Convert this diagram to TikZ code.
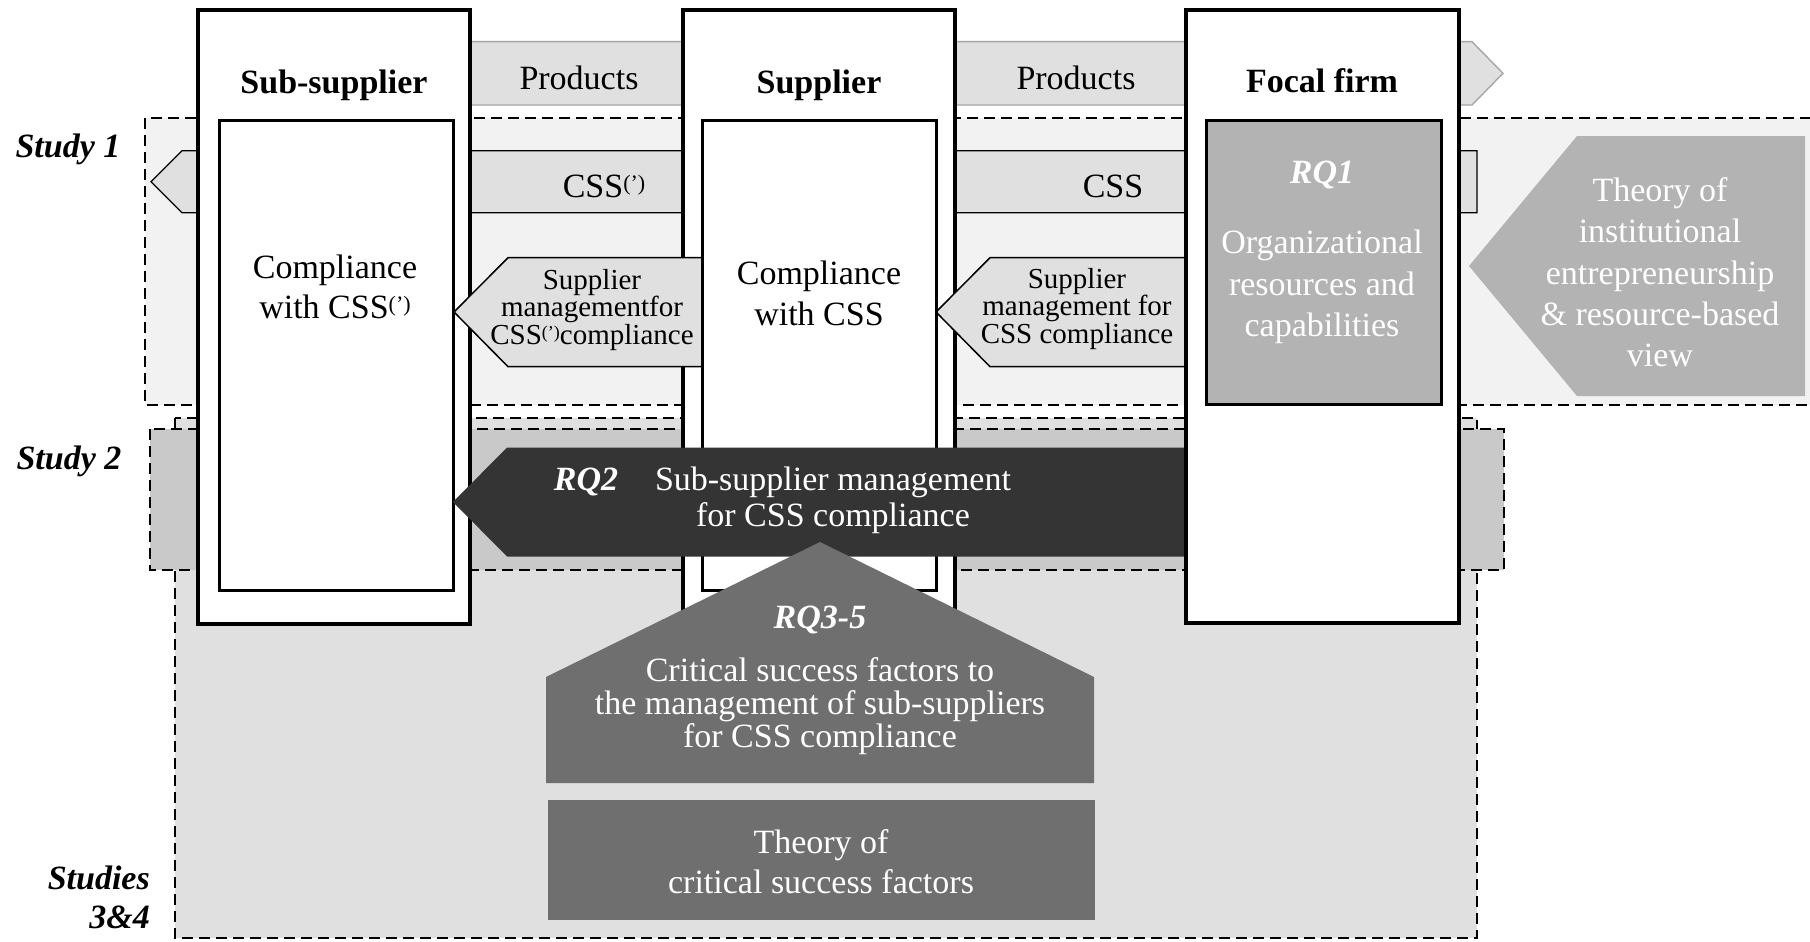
\documentclass[tikz,border=0pt]{standalone}
\usepackage{fontspec}
\setmainfont{Liberation Serif}
\definecolor{studyA}{HTML}{F2F2F2}
\definecolor{studyB}{HTML}{C9C9C9}
\definecolor{studyC}{HTML}{E0E0E0}
\definecolor{bandfill}{HTML}{E0E0E0}
\definecolor{bandline}{HTML}{A6A6A6}
\definecolor{midgray}{HTML}{B3B3B3}
\definecolor{rqdark}{HTML}{343434}
\definecolor{csfgray}{HTML}{6F6F6F}
% small raised "(')" after CSS
\newcommand{\quotesup}[2]{\raisebox{#2}{\fontsize{#1}{#1}\selectfont(’)}}
\begin{document}
\begin{tikzpicture}[x=1pt,y=-1pt,
  study/.style={draw=black,line width=2.2pt,dash pattern=on 11pt off 6pt},
  firm/.style={draw=black,fill=white,line width=3.4pt},
  innerbox/.style={draw=black,line width=3pt},
  prodband/.style={draw=bandline,fill=bandfill,line width=1.4pt},
  cssband/.style={draw=black,fill=bandfill,line width=1.2pt},
  lbl/.style={inner sep=0pt,anchor=base,align=center,font=\fontsize{34}{40}\selectfont},
  head/.style={lbl,font=\fontsize{34}{40}\selectfont\bfseries},
  studylbl/.style={inner sep=0pt,font=\fontsize{34}{39}\selectfont\bfseries\itshape},
  rq/.style={lbl,text=white,font=\fontsize{34}{40}\selectfont\bfseries\itshape},
  mgmt/.style={lbl,font=\fontsize{29}{25}\selectfont},
]
\useasboundingbox (0,0) rectangle (1810,942);

% study areas
\draw[study,fill=studyC] (175,418) rectangle (1477,938);
\draw[study,fill=studyB] (150,429) rectangle (1504,570);
\draw[study,fill=studyA] (145,118) rectangle (1830,405);

% flows of products and standards
\draw[prodband] (250,41.7) -- (1472,41.7) -- (1503,73.3) -- (1472,105) -- (250,105) -- cycle;
\draw[cssband] (151,181.7) -- (182,150.7) -- (1477,150.7) -- (1477,212.7) -- (182,212.7) -- cycle;

% theory arrow of study 1
\fill[midgray] (1469,266) -- (1577,136) -- (1805,136) -- (1805,396) -- (1577,396) -- cycle;

% sub-supplier and supplier
\draw[firm] (198,10) rectangle (470,624);
\draw[firm] (683,10) rectangle (955,624);

% supplier management arrows
\draw[cssband,line width=1.5pt] (454,312) -- (508,257.7) -- (702,257.7) -- (702,366.7) -- (508,366.7) -- cycle;
\draw[cssband,line width=1.5pt] (936,312) -- (990,257.7) -- (1186,257.7) -- (1186,366.7) -- (990,366.7) -- cycle;

\draw[innerbox,fill=white] (219,120) rectangle (453,590);
\draw[innerbox,fill=white] (702,120) rectangle (936,590);

% RQ2 arrow
\fill[rqdark] (453,502) -- (507,447.5) -- (1186,447.5) -- (1186,556.5) -- (507,556.5) -- cycle;

% focal firm
\draw[firm] (1186,10) rectangle (1459,623);
\draw[innerbox,fill=midgray] (1206,120) rectangle (1441,404);

% RQ3-5 and its theory
\fill[csfgray] (546,783) -- (546,677) -- (820,542) -- (1094,677) -- (1094,783) -- cycle;
\fill[csfgray] (548,800) rectangle (1095,920);

% labels (multi-line nodes are placed by the baseline of their last line)
\node[head] (nsub) at (334,93) {Sub-supplier};
\node[head] (nsup) at (819,93) {Supplier};
\node[head] (nfocal) at (1322,92.5) {Focal firm};
\node[lbl] (prod1) at (579,89) {Products};
\node[lbl] (prod2) at (1076,89) {Products};
\node[lbl] (css1) at (604,197) {CSS\quotesup{22}{7pt}};
\node[lbl] (css2) at (1113,197) {CSS};
\node[lbl] (comp1) at (335,318) {Compliance\\with CSS\quotesup{22}{7pt}};
\node[lbl,font=\fontsize{34}{41}\selectfont] (comp2) at (819,325) {Compliance\\with CSS};
\node[mgmt] (mg1) at (592,344) {Supplier\\managementfor\\CSS\quotesup{18}{6pt}compliance};
\node[mgmt] (mg2) at (1077,343) {Supplier\\management for\\CSS compliance};
\node[rq] (rq1) at (1322,183) {RQ1};
\node[lbl,text=white,font=\fontsize{34}{41.7}\selectfont] (orgres) at (1322,336.7) {Organizational\\resources and\\capabilities};
\node[lbl,text=white,font=\fontsize{34}{41.3}\selectfont] (theory1) at (1660,366.7) {Theory of\\institutional\\entrepreneurship\\\& resource-based\\view};
\node[rq] (rq2) at (586,490) {RQ2};
\node[lbl,text=white,font=\fontsize{34}{36}\selectfont] (subm) at (833,526) {Sub-supplier management\\for CSS compliance};
\node[rq] (rq35) at (820,628) {RQ3-5};
\node[lbl,text=white,font=\fontsize{34}{33}\selectfont] (csf) at (820,747) {Critical success factors to\\the management of sub-suppliers\\for CSS compliance};
\node[lbl,text=white,font=\fontsize{34}{40}\selectfont] (csftheory) at (821,893) {Theory of\\critical success factors};

\node[studylbl,anchor=base] (s1) at (68,157) {Study 1};
\node[studylbl,anchor=base] (s2) at (69,469) {Study 2};
\node[studylbl,anchor=base east,align=right] (s34) at (150,928) {Studies\\3\&4};
\end{tikzpicture}
\end{document}
